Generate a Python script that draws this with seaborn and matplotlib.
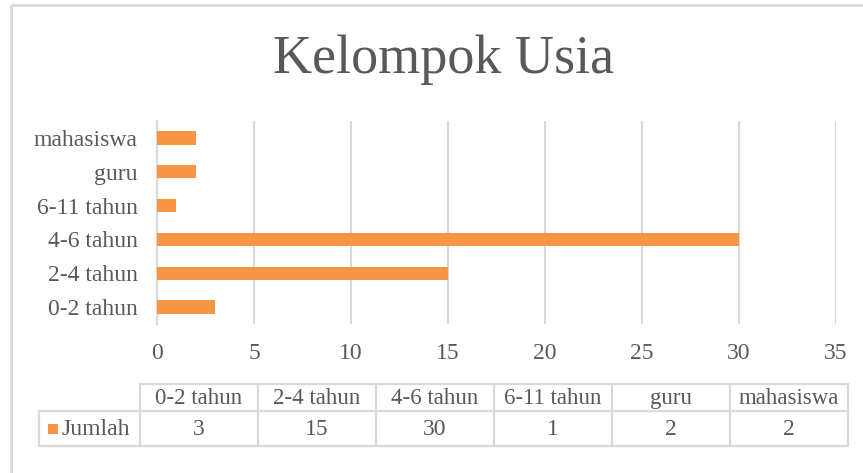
import matplotlib
matplotlib.use("Agg")
import matplotlib.pyplot as plt
import seaborn as sns
import pandas as pd
from matplotlib.lines import Line2D
from matplotlib.patches import Rectangle

categories = ["0-2 tahun", "2-4 tahun", "4-6 tahun", "6-11 tahun", "guru", "mahasiswa"]
values = [3, 15, 30, 1, 2, 2]
series_name = "Jumlah"
title = "Kelompok Usia"
xticks = [0, 5, 10, 15, 20, 25, 30, 35]

BAR = "#F79646"
TXT = "#595959"
GRID = "#D9D9D9"

sns.set_theme(style="white")
plt.rcParams["font.family"] = ["Liberation Serif", "DejaVu Serif"]

df = pd.DataFrame({"cat": categories, "val": values})
order = categories[::-1]

fig = plt.figure(figsize=(8.63, 4.73), dpi=100)
fig.patch.set_facecolor("white")
W, H = 863, 473
ax = fig.add_axes([157 / W, 1 - 324 / H, (836 - 157) / W, (324 - 121) / H])
sns.barplot(data=df, y="cat", x="val", order=order, orient="h", color=BAR,
            saturation=1, width=0.39, ax=ax, linewidth=0, zorder=3)
ax.set_xlim(0, 35)
ax.set_xticks(xticks)
ax.set_xlabel("")
ax.set_ylabel("")
ax.grid(axis="x", color=GRID, linewidth=1.5, zorder=0)
ax.grid(axis="y", visible=False)
for s in ["top", "right", "bottom"]:
    ax.spines[s].set_visible(False)
ax.spines["left"].set_color(GRID)
ax.spines["left"].set_linewidth(1.5)
ax.tick_params(axis="both", length=0, labelsize=17, labelcolor=TXT)
ax.tick_params(axis="y", pad=14)
ax.tick_params(axis="x", pad=14)

# overlay in pixel coordinates for frame, title and data table
ov = fig.add_axes([0, 0, 1, 1], zorder=5)
ov.set_xlim(0, W)
ov.set_ylim(H, 0)
ov.axis("off")
ov.patch.set_alpha(0)

# chart frame
ov.add_patch(Rectangle((10.5, 5.5), 900, 600, fill=False, edgecolor=GRID, linewidth=2))

ov.text(444, 60, title, ha="center", va="center", fontsize=39, color=TXT)

# data table
x0, xl = 140, 39
cw = 118
y0, y1, y2 = 384, 411, 446
lk = dict(color=GRID, linewidth=1.6)
xr = x0 + cw * len(categories)
ov.add_line(Line2D([x0, xr], [y0, y0], **lk))
ov.add_line(Line2D([xl, xr], [y1, y1], **lk))
ov.add_line(Line2D([xl, xr], [y2, y2], **lk))
ov.add_line(Line2D([xl, xl], [y1, y2], **lk))
for i in range(len(categories) + 1):
    ov.add_line(Line2D([x0 + i * cw] * 2, [y0, y2], **lk))
for i, (c, v) in enumerate(zip(categories, values)):
    cx = x0 + cw * (i + 0.5)
    ov.text(cx, (y0 + y1) / 2 + 1, c, ha="center", va="center", fontsize=16.5, color=TXT)
    ov.text(cx, (y1 + y2) / 2 + 1, str(v), ha="center", va="center", fontsize=17, color=TXT)
ov.add_patch(Rectangle((48, 424), 10, 10, facecolor=BAR, edgecolor="none"))
ov.text(61, (y1 + y2) / 2 + 1, series_name, ha="left", va="center", fontsize=17, color=TXT)

fig.savefig("out.png", dpi=100, facecolor="white")
